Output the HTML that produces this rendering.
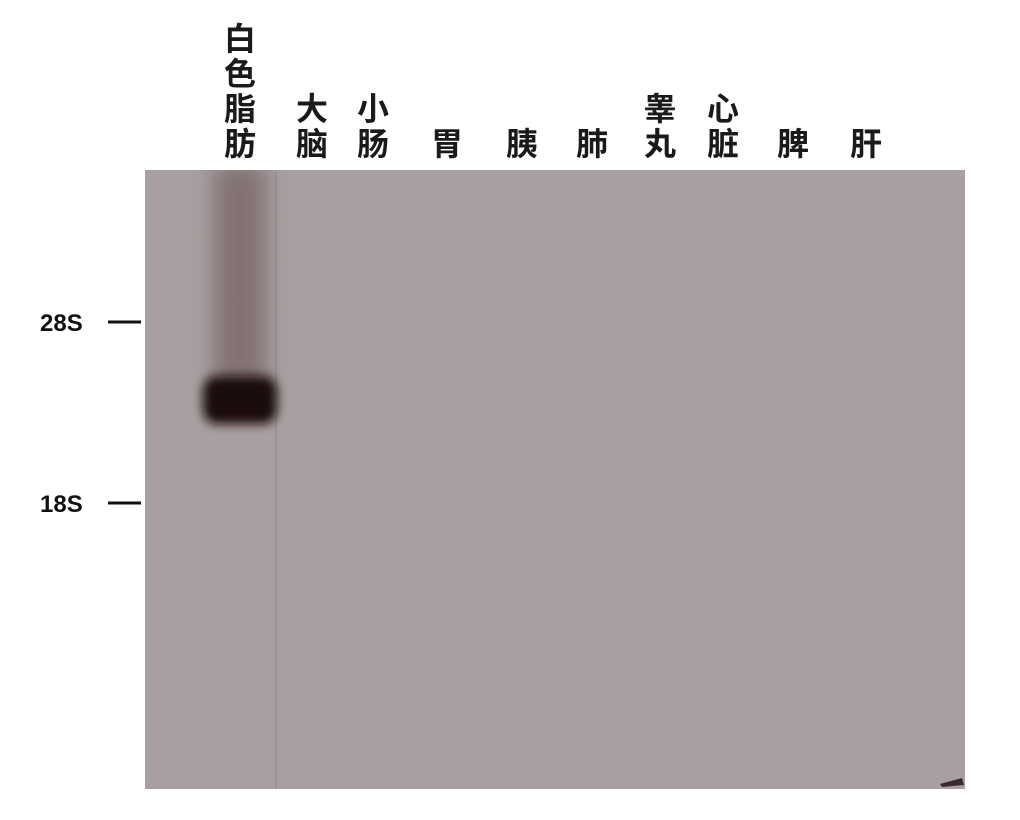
<!DOCTYPE html>
<html><head><meta charset="utf-8">
<style>
html,body{margin:0;padding:0;background:#fff;width:1020px;height:820px;overflow:hidden}
svg{display:block}
.lbl{font-family:"Liberation Sans","Noto Sans CJK SC",sans-serif;font-size:32px;font-weight:bold;fill:#1a1a1a}
.mk{font-family:"Liberation Sans",sans-serif;font-size:24px;font-weight:bold;fill:#111}
</style></head>
<body>
<svg id="blot" width="1020" height="820" viewBox="0 0 1020 820">
<defs>
<filter id="blur6" x="-50%" y="-50%" width="200%" height="200%"><feGaussianBlur stdDeviation="5"/></filter>
<filter id="blur12" x="-50%" y="-50%" width="200%" height="200%"><feGaussianBlur stdDeviation="10"/></filter>
<filter id="noise" filterUnits="userSpaceOnUse" x="145" y="170" width="820" height="619"><feTurbulence type="fractalNoise" baseFrequency="0.9" numOctaves="2" seed="3"/><feColorMatrix type="matrix" values="0 0 0 0 0.35 0 0 0 0 0.3 0 0 0 0 0.32 0 0 0 0.15 0"/></filter>
<clipPath id="gelclip"><rect x="145" y="170" width="820" height="619"/></clipPath>
</defs>
<rect x="145" y="170" width="820" height="619" fill="#a8a0a1"/>
<rect x="145" y="170" width="820" height="619" filter="url(#noise)"/>
<line x1="276" y1="172" x2="276" y2="789" stroke="#8d8588" stroke-width="1"/>
<g id="lanes" clip-path="url(#gelclip)"></g>
<g id="labels"></g>
<g id="markers"></g>
<path d="M940 784 L962 778 L964 785 L942 787 Z" fill="#3a2a2d"/>
</svg>
<script>
// tissues (lanes) and relative signal intensity
const tissues = [["白","色","脂","肪"],["大","脑"],["小","肠"],["胃"],["胰"],["肺"],["睾","丸"],["心","脏"],["脾"],["肝"]];
const laneCenters = [240, 312, 373, 447, 522, 592, 660, 723, 793, 866];
const intensity = [1.0, 0, 0, 0, 0, 0, 0, 0, 0, 0];
const markerNames = ["28S","18S"];
const markerY = [322, 503];
const bandY = 401;

const NS = "http://www.w3.org/2000/svg";
const lanesG = document.getElementById("lanes");
const labelsG = document.getElementById("labels");
const markersG = document.getElementById("markers");

tissues.forEach((t, i) => {
  const cx = laneCenters[i];
  const g = document.createElementNS(NS, "g");
  
  
  t.forEach((ch, j) => {
    const tx = document.createElementNS(NS, "text");
    tx.setAttribute("class", "lbl");
    tx.setAttribute("x", cx);
    tx.setAttribute("y", 155 - (t.length - 1 - j) * 35);
    tx.setAttribute("text-anchor", "middle");
    tx.textContent = ch;
    g.appendChild(tx);
  });
  labelsG.appendChild(g);

  const v = intensity[i];
  if (v > 0) {
    const smear = document.createElementNS(NS, "rect");
    
    
    smear.setAttribute("x", cx - 26); smear.setAttribute("y", 165);
    smear.setAttribute("width", 52); smear.setAttribute("height", bandY - 170);
    smear.setAttribute("fill", "#5e4649"); smear.setAttribute("opacity", 0.5 * v);
    smear.setAttribute("filter", "url(#blur12)");
    lanesG.appendChild(smear);
    const band = document.createElementNS(NS, "rect");
    
    
    band.setAttribute("x", cx - 37); band.setAttribute("y", bandY - 25);
    band.setAttribute("width", 74); band.setAttribute("height", 48);
    band.setAttribute("rx", 14);
    band.setAttribute("fill", "#1e0d10"); band.setAttribute("opacity", v);
    band.setAttribute("filter", "url(#blur6)");
    lanesG.appendChild(band);
  }
});

markerNames.forEach((m, i) => {
  const y = markerY[i];
  const tx = document.createElementNS(NS, "text");
  
  
  tx.setAttribute("class", "mk");
  tx.setAttribute("x", 40); tx.setAttribute("y", y + 9);
  tx.textContent = m;
  markersG.appendChild(tx);
  const ln = document.createElementNS(NS, "line");
  
  
  ln.setAttribute("x1", 108); ln.setAttribute("x2", 141);
  ln.setAttribute("y1", y); ln.setAttribute("y2", y);
  ln.setAttribute("stroke", "#111"); ln.setAttribute("stroke-width", 3);
  markersG.appendChild(ln);
});
</script>
</body></html>
